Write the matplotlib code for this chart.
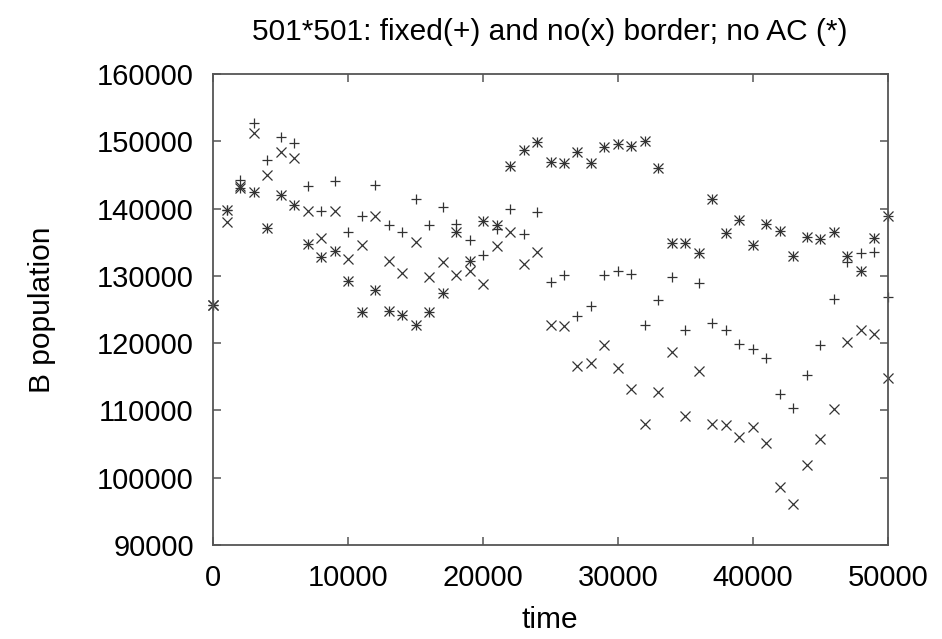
import numpy as np
import matplotlib.pyplot as plt

# Dados (um ponto a cada 1000 passos de tempo)
tempo = np.arange(0, 50001, 1000)

fixed_border = [125600, 139800, 144200, 152650, 147200, 150700, 149700, 143350, 139700, 144150,
                136500, 138900, 143450, 137500, 136450, 141350, 137500, 140200, 137700, 135300,
                133100, 136950, 140000, 136250, 139550, 129150, 130150, 124050, 125550, 130120,
                130760, 130220, 122650, 126450, 129870, 121900, 128980, 122940, 121990, 119870,
                119070, 117740, 112440, 110400, 115210, 119770, 126580, 132000, 133350, 133490,
                126850]

no_border = [125600, 138000, 143300, 151270, 144980, 148440, 147450, 139680, 135620, 139680,
             132550, 134530, 138940, 132150, 130470, 135070, 129870, 132050, 130070, 130660,
             128780, 134480, 136460, 131700, 133590, 122740, 122500, 116550, 117090, 119670,
             116350, 113230, 107980, 112730, 118680, 109170, 115810, 107930, 107880, 106050,
             107580, 105110, 98660, 96140, 101840, 105800, 110210, 120160, 121990, 121300,
             114860]

no_ac = [125600, 139800, 143000, 142450, 137150, 142000, 140570, 134730, 132790, 133690,
         129230, 124620, 127890, 124770, 124180, 122740, 124620, 127490, 136530, 132150,
         138100, 137600, 146310, 148640, 149930, 146960, 146760, 148400, 146710, 149090,
         149530, 149340, 150080, 146070, 134870, 134870, 133390, 141360, 136410, 138290,
         134580, 137750, 136610, 132940, 135810, 135470, 136510, 132900, 130760, 135700,
         138840]

xticks = [0, 10000, 20000, 30000, 40000, 50000]
yticks = [90000, 100000, 110000, 120000, 130000, 140000, 150000, 160000]

plt.rcParams['font.family'] = ['Liberation Sans', 'DejaVu Sans']

fig = plt.figure(figsize=(9.42, 6.39), dpi=100)
ax = fig.add_axes([0.2264, 0.1471, 0.7160, 0.7371])

cor = '#333333'
ax.plot(tempo, fixed_border, '+', color=cor, markersize=7.5, markeredgewidth=0.9, linestyle='none', clip_on=False)
ax.plot(tempo, no_border, 'x', color=cor, markersize=6.5, markeredgewidth=0.9, linestyle='none', clip_on=False)
# asterisco do gnuplot = + sobreposto com x
ax.plot(tempo, no_ac, '+', color=cor, markersize=7.5, markeredgewidth=0.9, linestyle='none', clip_on=False)
ax.plot(tempo, no_ac, 'x', color=cor, markersize=6.5, markeredgewidth=0.9, linestyle='none', clip_on=False)

ax.set_xlim(0, 50000)
ax.set_ylim(90000, 160000)
ax.set_xticks(xticks)
ax.set_yticks(yticks)
ax.set_xticklabels([str(v) for v in xticks])
ax.set_yticklabels([str(v) for v in yticks])

for lado in ax.spines.values():
    lado.set_color('#555555')
    lado.set_linewidth(1.3)

ax.tick_params(direction='in', length=6, width=1.1, color='#555555',
               top=True, right=True, labelsize=21, pad=14)

fig.text(550 / 942, 1 - 32 / 639, '501*501: fixed(+) and no(x) border; no AC (*)',
         ha='center', va='center', fontsize=21.5)
fig.text(550 / 942, 1 - 620 / 639, 'time', ha='center', va='center', fontsize=21.5)
fig.text(42 / 942, 1 - 310 / 639, 'B population', ha='center', va='center',
         rotation=90, fontsize=21.5)

plt.savefig('out.png', dpi=100)
plt.close()
